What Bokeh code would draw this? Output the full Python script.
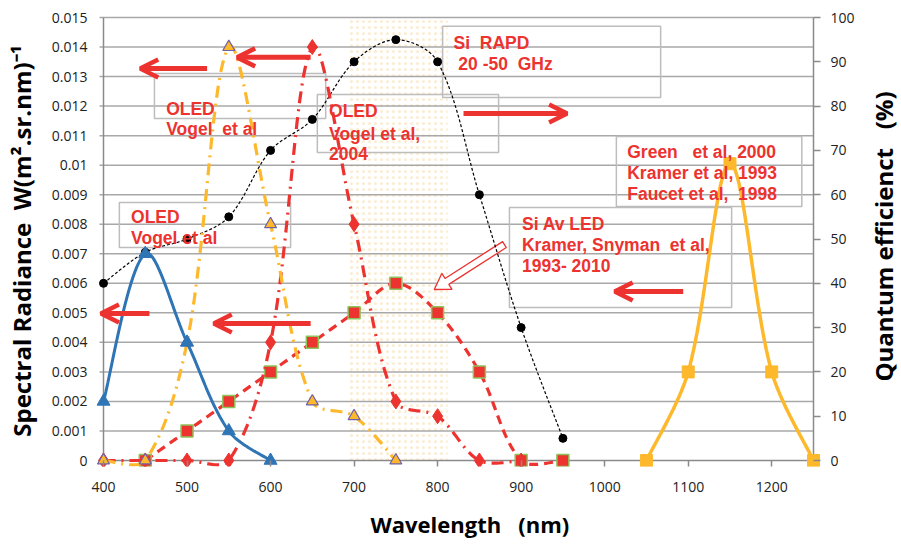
import math
import numpy as np
from bokeh.plotting import figure
from bokeh.layouts import row
from bokeh.models import (Range1d, LinearAxis, FixedTicker, Label, Arrow, OpenHead,
                          NumeralTickFormatter)
from bokeh.embed import file_html
from bokeh.resources import INLINE

# ---------------- data ----------------
WL_OLED_BLUE = [400, 450, 500, 550, 600]
OLED_BLUE = [0.002, 0.007, 0.004, 0.001, 0.0]

WL_OLED_YELLOW = [400, 450, 500, 550, 600, 650, 700, 750]
OLED_YELLOW = [0.0, 0.0, 0.004, 0.014, 0.008, 0.002, 0.0015, 0.0]

WL_OLED_RED = [400, 450, 500, 550, 600, 650, 700, 750, 800, 850, 900]
OLED_RED = [0.0, 0.0, 0.0, 0.0, 0.004, 0.014, 0.008, 0.002, 0.0015, 0.0, 0.0]

WL_SI_AV_LED = [450, 500, 550, 600, 650, 700, 750, 800, 850, 900, 950]
SI_AV_LED = [0.0, 0.001, 0.002, 0.003, 0.004, 0.005, 0.006, 0.005, 0.003, 0.0, 0.0]

WL_SI_RAPD = [400, 450, 500, 550, 600, 650, 700, 750, 800, 850, 900, 950]
SI_RAPD_QE = [40, 47, 50, 55, 70, 77, 90, 95, 90, 60, 30, 5]

WL_SOLAR = [1050, 1100, 1150, 1200, 1250]
SOLAR_QE = [0, 20, 67, 20, 0]

X_TICKS = [400, 500, 600, 700, 800, 900, 1000, 1100, 1200]
Y_TICKS = [0, 0.001, 0.002, 0.003, 0.004, 0.005, 0.006, 0.007, 0.008, 0.009,
           0.01, 0.011, 0.012, 0.013, 0.014, 0.015]
Y_TICK_LABELS = ["0", "0.001", "0.002", "0.003", "0.004", "0.005", "0.006", "0.007",
                 "0.008", "0.009", "0.01", "0.011", "0.012", "0.013", "0.014", "0.015"]
QE_TICKS = [0, 10, 20, 30, 40, 50, 60, 70, 80, 90, 100]

X_MIN, X_MAX = 400, 1250
Y_MAX = 0.015
QE_MAX = 100

# ---------------- styling ----------------
BLUE = "#2f75b5"
GOLD = "#fdb92b"
RED = "#ec3330"
PURPLE = "#7060a8"
GREEN = "#8cc45a"
GRID = "#a8a8a8"
AXIS = "#8a8a8a"
TXT = "#222222"
SP = "\u00a0"   # keeps repeated blanks visible

PXX = 710 / 850.0      # pixels per nm inside the frame
PXY = 443 / 0.015      # pixels per radiance unit
PXQ = 443 / 100.0      # pixels per percent
PAD_L, PAD_R, PAD_B, PAD_T = 7, 7, 6, 2
W_MAIN, W_SIDE, H = 862, 39, 547


def smooth(xs, ys, ypx, n=30):
    """Spreadsheet-style smoothed line through the points (Bezier, chord-weighted tangents)."""
    P = np.column_stack([np.asarray(xs, float), np.asarray(ys, float)])
    S = np.array([PXX, ypx])
    m = len(P)
    cout = [None] * m
    cin = [None] * m
    for i in range(m):
        if i == 0:
            cout[i] = P[0] + (P[1] - P[0]) / 6.0
            continue
        if i == m - 1:
            cin[i] = P[-1] - (P[-1] - P[-2]) / 6.0
            continue
        T = P[i + 1] - P[i - 1]
        d1 = np.linalg.norm((P[i] - P[i - 1]) * S)
        d2 = np.linalg.norm((P[i + 1] - P[i]) * S)
        tot = d1 + d2 if d1 + d2 > 0 else 1.0
        cout[i] = P[i] + T * (d2 / tot) / 3.0
        cin[i] = P[i] - T * (d1 / tot) / 3.0
    t = np.linspace(0, 1, n, endpoint=False)[:, None]
    out = []
    for i in range(m - 1):
        p1, c1, c2, p2 = P[i], cout[i], cin[i + 1], P[i + 1]
        out.append(((1 - t) ** 3) * p1 + 3 * ((1 - t) ** 2) * t * c1 + 3 * (1 - t) * t ** 2 * c2 + t ** 3 * p2)
    out.append(P[-1:])
    pts = np.vstack(out)
    return pts[:, 0], pts[:, 1]


y0 = -PAD_B / PXY
y1 = Y_MAX + PAD_T / PXY
p = figure(width=W_MAIN, height=H,
           x_range=Range1d(X_MIN - PAD_L / PXX, X_MAX + PAD_R / PXX),
           y_range=Range1d(y0, y1),
           output_backend="svg", toolbar_location=None,
           min_border_left=96, min_border_right=W_MAIN - 820, min_border_top=15, min_border_bottom=81)
p.extra_y_ranges = {"qe": Range1d(y0 / Y_MAX * QE_MAX, y1 / Y_MAX * QE_MAX)}
p.outline_line_color = None
p.xgrid.visible = False
p.ygrid.visible = False
p.background_fill_color = "white"

# shaded dotted band
p.quad(left=[693], right=[812], bottom=[0], top=[Y_MAX], fill_color=None, line_color=None,
       hatch_pattern="dot", hatch_color="#f3c060", hatch_scale=6, hatch_weight=0.6, hatch_alpha=0.3)

# gridlines
p.segment(x0=[X_MIN - 4 / PXX] * len(Y_TICKS[1:]), x1=[X_MAX] * len(Y_TICKS[1:]),
          y0=Y_TICKS[1:], y1=Y_TICKS[1:], line_color=GRID, line_width=1.5)
# axis lines
p.segment(x0=[X_MIN, X_MAX, X_MIN - 4 / PXX], y0=[0, 0, 0], x1=[X_MIN, X_MAX, X_MAX], y1=[Y_MAX, Y_MAX, 0],
          line_color=AXIS, line_width=1.5)

# text boxes
BOX_L = [461, 419, 656, 806, 1014, 886]
BOX_R = [666, 624, 873, 1067, 1236, 1152]
BOX_B = [0.01158, 0.00721, 0.01043, 0.01229, 0.00860, 0.00518]
BOX_T = [0.01310, 0.00874, 0.01239, 0.01470, 0.01097, 0.00857]
p.quad(left=BOX_L, right=BOX_R, bottom=BOX_B, top=BOX_T, fill_color=None,
       line_color="#bdbdbd", line_width=1.5)

# open block arrow (outline)
def block_arrow(tail, tip, hs=3.5, hh=9.5, hl=15):
    T = np.array([tail[0] * PXX, tail[1] * PXY])
    Hh = np.array([tip[0] * PXX, tip[1] * PXY])
    u = (Hh - T) / np.linalg.norm(Hh - T)
    nrm = np.array([-u[1], u[0]])
    neck = Hh - u * hl
    pts = [T + nrm * hs, neck + nrm * hs, neck + nrm * hh, Hh, neck - nrm * hh, neck - nrm * hs, T - nrm * hs]
    return [q[0] / PXX for q in pts], [q[1] / PXY for q in pts]

bx, by = block_arrow((880, 0.00731), (796, 0.00579))
p.patch(bx, by, fill_color="white", line_color=RED, line_width=1.3)

# ---- series ----
sx, sy = smooth(WL_SI_RAPD, SI_RAPD_QE, PXQ)
p.line(sx, sy, y_range_name="qe", line_color="black", line_width=1.2, line_dash="3 2")
p.scatter(WL_SI_RAPD, SI_RAPD_QE, y_range_name="qe", marker="circle", size=8,
          fill_color="black", line_color="black")

sx, sy = smooth(WL_SI_AV_LED, SI_AV_LED, PXY)
p.line(sx, sy, line_color=RED, line_width=3.2, line_dash="9 6")
p.scatter(WL_SI_AV_LED, SI_AV_LED, marker="square", size=12, fill_color=RED,
          line_color=GREEN, line_width=1.5)

sx, sy = smooth(WL_OLED_RED, OLED_RED, PXY)
p.line(sx, sy, line_color=RED, line_width=3.2, line_dash="12 6 2 6")
p.scatter(WL_OLED_RED, OLED_RED, marker="diamond", size=15, fill_color=RED, line_color=RED)

sx, sy = smooth(WL_OLED_YELLOW, OLED_YELLOW, PXY)
p.line(sx, sy, line_color=GOLD, line_width=3.2, line_dash="12 6 2 6")
p.scatter(WL_OLED_YELLOW, OLED_YELLOW, marker="triangle", size=12, fill_color=GOLD,
          line_color=PURPLE, line_width=1.2)

sx, sy = smooth(WL_OLED_BLUE, OLED_BLUE, PXY)
p.line(sx, sy, line_color=BLUE, line_width=3)
p.scatter(WL_OLED_BLUE, OLED_BLUE, marker="triangle", size=13, fill_color=BLUE, line_color=BLUE)

sx, sy = smooth(WL_SOLAR, SOLAR_QE, PXQ)
p.line(sx, sy, y_range_name="qe", line_color=GOLD, line_width=3.5)
p.scatter(WL_SOLAR, SOLAR_QE, y_range_name="qe", marker="square", size=12,
          fill_color=GOLD, line_color=GOLD)

# ---- arrows ----
ARROWS = [((524, 0.01327), (444, 0.01327)),
          ((648, 0.01365), (560, 0.01365)),
          ((831, 0.01175), (955, 0.01175)),
          ((455, 0.00498), (397, 0.00498)),
          ((648, 0.00464), (532, 0.00464)),
          ((1094, 0.00572), (1012, 0.00572))]
for (xs_, ys_), (xe_, ye_) in ARROWS:
    p.add_layout(Arrow(end=OpenHead(size=18, line_color=RED, line_width=4.5),
                       x_start=xs_, y_start=ys_, x_end=xe_, y_end=ye_,
                       line_color=RED, line_width=5))

# ---- annotation texts ----
NOTES = [
    (475, 0.01189, "OLED"), (475, 0.01124, "Vogel" + SP + " et al"),
    (433, 0.00823, "OLED"), (433, 0.00752, "Vogel et al"),
    (670, 0.01185, "OLED"), (670, 0.01107, "Vogel et al,"), (670, 0.01040, "2004"),
    (819, 0.01412, "Si" + SP + " RAPD"), (819, 0.01344, SP + "20 -50" + SP + " GHz"),
    (1027, 0.01043, "Green" + SP + SP + " et al, 2000"), (1027, 0.00972, "Kramer et al, 1993"),
    (1027, 0.00904, "Faucet et al," + SP + " 1998"),
    (901, 0.00802, "Si Av LED"), (901, 0.00731, "Kramer, Snyman" + SP + " et al,"),
    (901, 0.00660, "1993- 2010"),
]
for x_, y_, t_ in NOTES:
    p.add_layout(Label(x=x_, y=y_, text=t_, text_font="Liberation Sans", text_font_style="bold",
                       text_font_size="17.5px", text_color=RED, text_baseline="middle",
                       text_align="left"))

# ---- axes ----
xa = p.xaxis[0]
xa.ticker = FixedTicker(ticks=X_TICKS)
xa.axis_line_color = None
xa.major_tick_in = PAD_B
xa.major_tick_out = 0
xa.major_tick_line_color = AXIS
xa.major_tick_line_width = 1.5
xa.minor_tick_line_color = None
xa.major_label_standoff = 15
xa.major_label_text_font = "Open Sans"
xa.major_label_text_font_size = "14px"
xa.major_label_text_color = TXT
xa.axis_label = SP * 4 + "Wavelength" + SP + SP + " (nm)"
xa.axis_label_text_font = "Open Sans"
xa.axis_label_text_font_style = "bold"
xa.axis_label_text_font_size = "22px"
xa.axis_label_text_color = "black"
xa.axis_label_standoff = 14

ya = p.yaxis[0]
ya.ticker = FixedTicker(ticks=Y_TICKS)
ya.formatter = NumeralTickFormatter(format="0.[000]")
ya.major_label_overrides = dict(zip(Y_TICKS, Y_TICK_LABELS))
ya.axis_line_color = None
ya.major_tick_in = 0
ya.major_tick_out = 0
ya.minor_tick_line_color = None
ya.major_label_standoff = 9
ya.major_label_text_font = "Open Sans"
ya.major_label_text_font_size = "14px"
ya.major_label_text_color = TXT
ya.axis_label = "Spectral Radiance" + SP + " W(m\u00b2.sr.nm)\u207b\u00b9"
ya.axis_label_text_font = "Open Sans"
ya.axis_label_text_font_style = "bold"
ya.axis_label_text_font_size = "24px"
ya.axis_label_text_color = "black"
ya.axis_label_standoff = 11

ra = LinearAxis(y_range_name="qe", ticker=FixedTicker(ticks=QE_TICKS))
ra.axis_line_color = None
ra.major_tick_in = PAD_R
ra.major_tick_out = 0
ra.major_tick_line_color = AXIS
ra.major_tick_line_width = 1.5
ra.minor_tick_line_color = None
ra.major_label_standoff = 10
ra.major_label_text_font = "Open Sans"
ra.major_label_text_font_size = "14px"
ra.major_label_text_color = TXT
p.add_layout(ra, "right")

# ---- narrow side panel carrying the right-hand title (reads bottom to top) ----
side = figure(width=W_SIDE, height=H, x_range=Range1d(0, W_SIDE), y_range=Range1d(0, H),
              x_axis_type=None, y_axis_type=None, output_backend="svg", toolbar_location=None,
              min_border_left=0, min_border_right=0, min_border_top=0, min_border_bottom=0)
side.outline_line_color = None
side.grid.visible = False
side.add_layout(Label(x=21, y=H - 268, angle=math.pi / 2, text_align="center", text_baseline="middle",
                      text="Quantum efficienct" + SP + SP + " (%)", text_font="Open Sans",
                      text_font_style="bold", text_font_size="24px", text_color="black"))

open("out.html", "w").write(file_html(row(p, side), INLINE))
